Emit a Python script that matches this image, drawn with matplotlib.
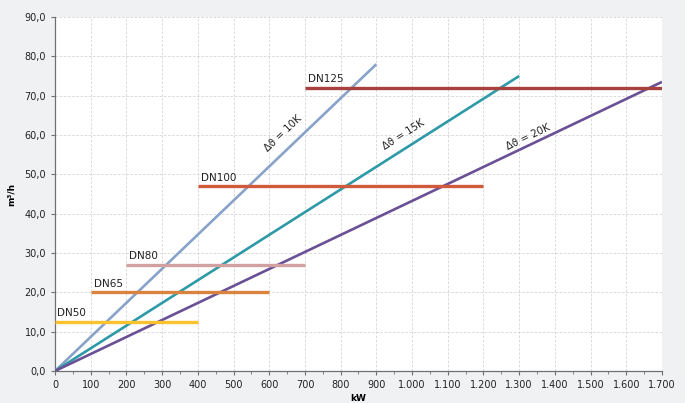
import numpy as np
import matplotlib.pyplot as plt
from matplotlib.ticker import FuncFormatter, MultipleLocator

# diagonal lines: flow vs power for different temperature spreads
dt_labels = ['Δϑ = 10K', 'Δϑ = 15K', 'Δϑ = 20K']
dt_x_end = [900, 1300, 1700]
dt_y_end = [78.0, 75.0, 73.5]
dt_colors = ['#88a2c9', '#2e9aa7', '#6a5095']

# horizontal pipe size ranges
dn_labels = ['DN50', 'DN65', 'DN80', 'DN100', 'DN125']
dn_flow = [12.5, 20.0, 27.0, 47.0, 72.0]
dn_start = [0, 100, 200, 400, 700]
dn_end = [400, 600, 700, 1200, 1700]
dn_colors = ['#f9c22e', '#d9833f', '#d3a0a1', '#d25a3c', '#a8403e']

xticks = np.arange(0, 1701, 100)
yticks = np.arange(0, 91, 10)

fig = plt.figure(figsize=(6.85, 4.03), dpi=100, facecolor='#f0f1f3')
ax = fig.add_axes([55/685, 32/403, 607/685, 354/403])
ax.set_facecolor('white')

for lab, xe, ye, c in zip(dt_labels, dt_x_end, dt_y_end, dt_colors):
    ax.plot([0, xe], [0, ye], color=c, lw=1.9, solid_capstyle='butt', zorder=3)

for lab, f, s, e, c in zip(dn_labels, dn_flow, dn_start, dn_end, dn_colors):
    ax.plot([s, e], [f, f], color=c, lw=2.4, solid_capstyle='butt', zorder=4)
    ax.text(s + 8 if s > 0 else 5, f + 0.9, lab, fontsize=7.5, color='#222222',
            ha='left', va='bottom', zorder=5)

ax.set_xlim(0, 1700)
ax.set_ylim(0, 90)
ax.set_xticks(xticks)
ax.set_yticks(yticks)
ax.xaxis.set_minor_locator(MultipleLocator(50))
ax.xaxis.set_major_formatter(FuncFormatter(lambda v, p: f'{int(v):,}'.replace(',', '.')))
ax.yaxis.set_major_formatter(FuncFormatter(lambda v, p: f'{v:.1f}'.replace('.', ',')))
ax.tick_params(axis='both', labelsize=7, colors='#222222', length=3, width=0.8, color='#707070')
ax.tick_params(axis='x', which='minor', length=2, width=0.6, color='#707070')
ax.grid(True, color='#d4d4d4', ls=(0, (3, 2)), lw=0.6, zorder=0)

for side in ['top', 'right']:
    ax.spines[side].set_visible(False)
for side in ['left', 'bottom']:
    ax.spines[side].set_color('#707070')
    ax.spines[side].set_linewidth(0.9)

# slope labels, rotated along the line
fig.canvas.draw()
label_pos = [(640, 60.5), (975, 60.2), (1325, 59.5)]
for lab, xe, ye, (lx, ly) in zip(dt_labels, dt_x_end, dt_y_end, label_pos):
    p0 = ax.transData.transform((0, 0))
    p1 = ax.transData.transform((xe, ye))
    ang = np.degrees(np.arctan2(p1[1] - p0[1], p1[0] - p0[0]))
    ax.text(lx, ly, lab, fontsize=7.3, rotation=ang, rotation_mode='anchor',
            ha='center', va='center', color='#222222', zorder=5)

ax.set_ylabel('m³/h', fontsize=6.5, fontweight='bold', labelpad=6)
ax.set_xlabel('kW', fontsize=6.5, fontweight='bold', labelpad=3)

fig.savefig('out.png', dpi=100, facecolor=fig.get_facecolor())
